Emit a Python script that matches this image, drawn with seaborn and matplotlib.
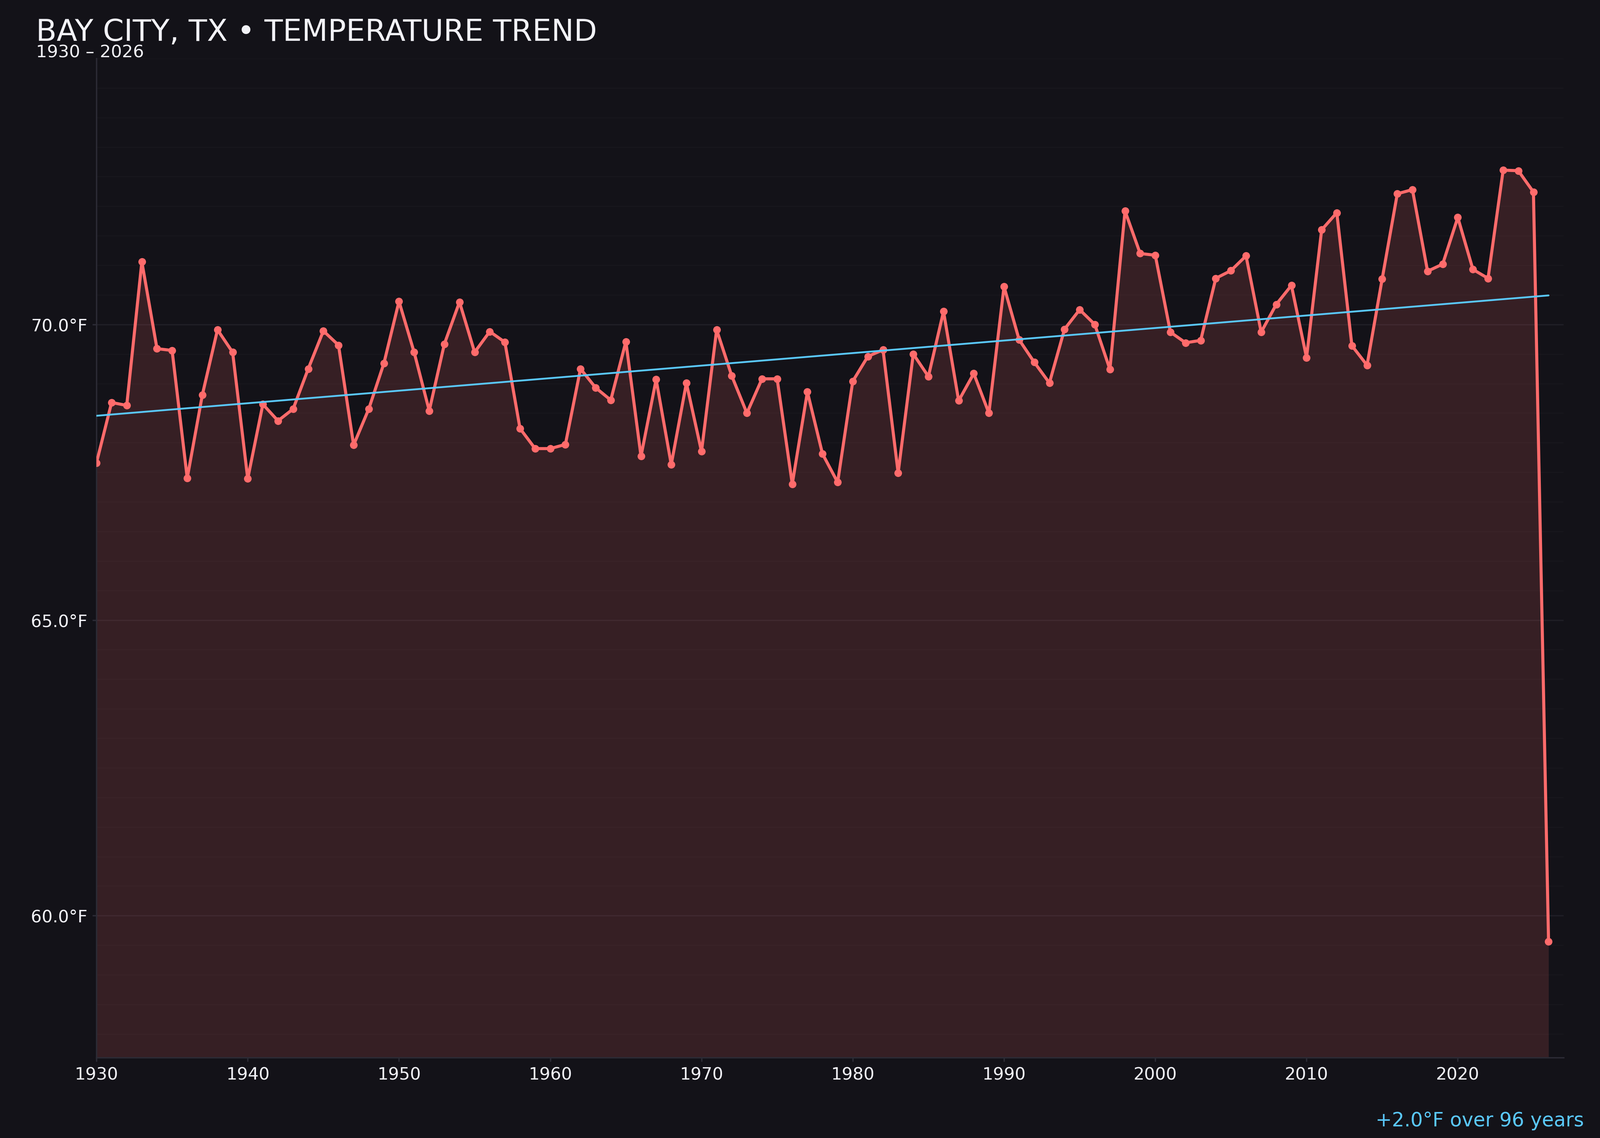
import matplotlib
matplotlib.use("Agg")
import matplotlib.pyplot as plt
import seaborn as sns
import numpy as np
import pandas as pd
from matplotlib.ticker import MultipleLocator, FuncFormatter


YEARS = list(range(1930, 2027))
TEMPS = [
    67.66, 68.68, 68.63, 71.06, 69.59, 69.56, 67.40, 68.81, 69.91, 69.53,  # 1930s
    67.39, 68.65, 68.37, 68.57, 69.25, 69.89, 69.65, 67.96, 68.57, 69.34,  # 1940s
    70.39, 69.53, 68.54, 69.67, 70.38, 69.53, 69.88, 69.70, 68.24, 67.90,  # 1950s
    67.90, 67.97, 69.25, 68.93, 68.72, 69.71, 67.77, 69.07, 67.63, 69.01,  # 1960s
    67.85, 69.91, 69.13, 68.50, 69.08, 69.08, 67.30, 68.86, 67.81, 67.33,  # 1970s
    69.04, 69.46, 69.57, 67.49, 69.50, 69.12, 70.22, 68.71, 69.17, 68.50,  # 1980s
    70.64, 69.74, 69.36, 69.01, 69.92, 70.25, 70.00, 69.24, 71.92, 71.20,  # 1990s
    71.17, 69.87, 69.69, 69.73, 70.78, 70.91, 71.16, 69.87, 70.34, 70.66,  # 2000s
    69.44, 71.60, 71.89, 69.64, 69.31, 70.77, 72.21, 72.28, 70.90, 71.02,  # 2010s
    71.81, 70.93, 70.78, 72.61, 72.60, 72.24, 59.56,                      # 2020s
]
TITLE = "BAY CITY, TX • TEMPERATURE TREND"
SUBTITLE = "1930 – 2026"

BG = "#131218"
RED = "#ff6b6b"
BLUE = "#5ac8fa"
TEXT = "#f2f2f7"
SPINE = "#2c2b35"

df = pd.DataFrame({"year": YEARS, "temp": TEMPS})

sns.set_theme(style="dark")
plt.rcParams["font.family"] = ["DejaVu Sans"]

fig = plt.figure(figsize=(16, 11.376), dpi=250, facecolor=BG)
ax = fig.add_axes([0.0603, 0.0707, 0.917, 0.878])
ax.set_facecolor(BG)

ymin, ymax = 57.6, 74.5
ax.fill_between(df["year"], df["temp"], ymin, color=RED, alpha=0.15, lw=0, zorder=1)
sns.lineplot(data=df, x="year", y="temp", ax=ax, color=RED, lw=2.2,
             marker="o", markersize=5.5, markeredgewidth=0, zorder=3)
sns.regplot(data=df, x="year", y="temp", ax=ax, scatter=False, ci=None,
            truncate=True, line_kws={"color": BLUE, "lw": 1.3, "zorder": 4})

ax.set_xlim(1930, 2027)
ax.set_ylim(ymin, ymax)
ax.xaxis.set_major_locator(MultipleLocator(10))
ax.yaxis.set_major_locator(MultipleLocator(5))
ax.yaxis.set_minor_locator(MultipleLocator(0.5))
ax.yaxis.set_major_formatter(FuncFormatter(lambda v, p: f"{v:.1f}°F"))
ax.set_xlabel("")
ax.set_ylabel("")

ax.grid(False)
ax.grid(axis="y", which="major", color="#1f1e25", lw=1.0, zorder=0)
ax.grid(axis="y", which="minor", color="#17161c", lw=1.0, zorder=0)
ax.set_axisbelow(True)

for side in ["top", "right"]:
    ax.spines[side].set_visible(False)
for side in ["left", "bottom"]:
    ax.spines[side].set_color(SPINE)
    ax.spines[side].set_linewidth(1.0)

ax.tick_params(axis="both", which="major", colors=SPINE, labelcolor=TEXT,
               labelsize=12.3, length=3, width=1, bottom=True, left=True, pad=3.5)
ax.tick_params(axis="y", which="minor", left=False)

# trend over the period from the fitted line
slope = np.polyfit(df["year"], df["temp"], 1)[0]
span = YEARS[-1] - YEARS[0]
change = slope * span

fig.text(0.0225, 0.9641, TITLE, color=TEXT, fontsize=21.7, ha="left", va="baseline")
fig.text(0.0225, 0.9494, SUBTITLE, color=TEXT, fontsize=12.5, ha="left", va="baseline")
fig.text(0.99, 0.0102, f"{change:+.1f}°F over {span} years", color=BLUE,
         fontsize=14, ha="right", va="baseline")

fig.savefig("out.png", dpi=250, facecolor=BG)
